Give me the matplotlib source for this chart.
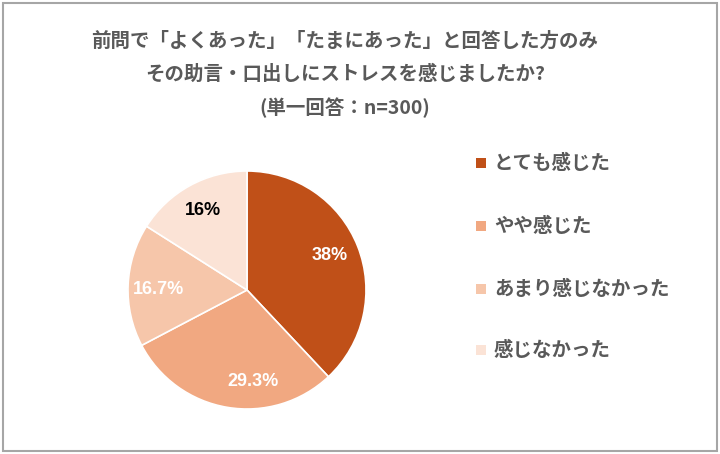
import matplotlib.pyplot as plt
from matplotlib.patches import Rectangle

plt.rcParams['font.family'] = ['Noto Sans CJK JP', 'DejaVu Sans']

categories = ['とても感じた', 'やや感じた', 'あまり感じなかった', '感じなかった']
values = [38.0, 29.3, 16.7, 16.0]
labels = ['38%', '29.3%', '16.7%', '16%']
colors = ['#C05018', '#F1A881', '#F6C6AA', '#FBE3D6']
label_colors = ['white', 'white', 'white', 'black']
title_lines = ['前問で「よくあった」「たまにあった」と回答した方のみ',
               'その助言・口出しにストレスを感じましたか?',
               '(単一回答：n=300)']

fig = plt.figure(figsize=(7.2, 4.54), dpi=100)
W, H = 720, 454

# outer frame
fig.patches.append(Rectangle((3 / W, 3 / H), 1 - 6 / W, 1 - 6 / H, transform=fig.transFigure,
                             fill=False, edgecolor='#A6A6A6', linewidth=1.5))

# title
for i, line in enumerate(title_lines):
    fig.text(345 / W, 1 - (41 + 33.5 * i) / H, line, ha='center', va='center',
             fontsize=14, fontweight='bold', color='#595959')

# pie
cx, cy, r = 247, 290, 119
ax = fig.add_axes([(cx - r) / W, 1 - (cy + r) / H, 2 * r / W, 2 * r / H])
wedges, _ = ax.pie(values, colors=colors, startangle=90, counterclock=False, radius=1,
                   wedgeprops=dict(edgecolor='white', linewidth=1.2))
ax.set_xlim(-1, 1)
ax.set_ylim(-1, 1)
ax.set_aspect('equal')
label_pos = [(330, 255), (253, 381), (159, 290), (203, 211)]
for (px, py), lab, c in zip(label_pos, labels, label_colors):
    fig.text(px / W, 1 - py / H, lab, ha='center', va='center', fontsize=13,
             fontweight='bold', color=c, family=['Liberation Sans', 'DejaVu Sans'],
             zorder=5)

# legend
rows_y = [163, 226, 289, 350]
for y, cat, col in zip(rows_y, categories, colors):
    fig.patches.append(Rectangle((476 / W, 1 - (y + 5) / H), 10 / W, 10 / H,
                                 transform=fig.transFigure, facecolor=col, edgecolor='none'))
    fig.text(494 / W, 1 - y / H, cat, ha='left', va='center', fontsize=14,
             fontweight='bold', color='#595959')

fig.savefig('out.png', dpi=100)
